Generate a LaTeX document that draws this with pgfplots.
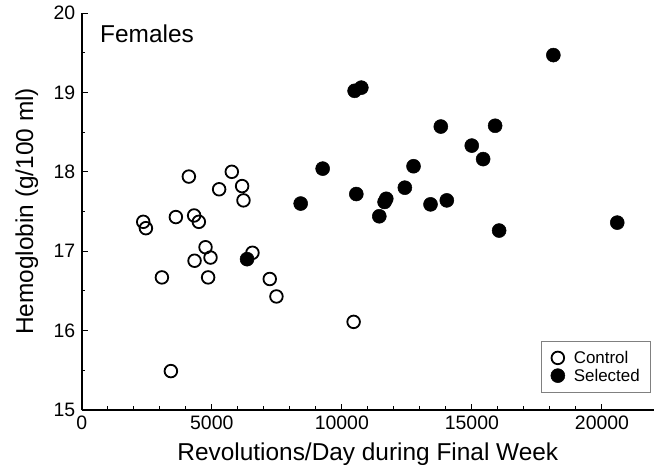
\documentclass[border=0pt]{standalone}
\usepackage{fontspec}
\setmainfont{Liberation Sans}
\usepackage{pgfplots}
\pgfplotsset{compat=1.18}
\begin{document}
\begin{tikzpicture}
\path[use as bounding box] (0,0) rectangle (655bp,465bp);
\begin{axis}[
  at={(81.7bp,55bp)}, anchor=south west,
  scale only axis, width=572.3bp, height=397bp,
  xmin=0, xmax=22000, ymin=15, ymax=20,
  axis lines=left, axis line style={-, line width=1.8bp},
  xtick={0,5000,10000,15000,20000},
  ytick={15,16,17,18,19,20},
  scaled x ticks=false,
  minor x tick num=4, minor y tick num=1,
  tick align=inside,
  major tick length=6bp, minor tick length=3.5bp,
  every tick/.style={black, line width=1bp},
  /pgf/number format/assume math mode=true,
  /pgf/number format/set thousands separator={},
  tick label style={font=\fontsize{19.5}{22}\selectfont},
  xticklabel style={yshift=-2bp},
  yticklabel style={xshift=-3bp},
  xlabel={Revolutions/Day during Final Week},
  ylabel={Hemoglobin (g/100 ml)},
  label style={font=\fontsize{24.5}{28}\selectfont},
  xlabel style={at={(axis description cs:0.5,0)}, anchor=base, yshift=-50bp},
  ylabel style={at={(axis description cs:-0.096,0.5)}, anchor=center, rotate=0},
  legend style={at={(0.995,0.043)}, anchor=south east, draw=gray, line width=0.8bp,
    font=\fontsize{17}{19}\selectfont, inner xsep=9bp, inner ysep=8bp,
    row sep=0bp,
    /tikz/every odd column/.append style={column sep=7bp}},
  legend image code/.code={\draw[#1] plot coordinates {(0.22cm,0cm)};},
  legend cell align=left,
  reverse legend,
  clip=false,
]
\addplot[only marks, mark=*, mark size=7bp, mark options={fill=black, draw=black, line width=0.5bp}] coordinates {
(6357,16.90) (8418,17.60) (9263,18.04) (10491,19.02) (10749,19.06)
(10556,17.72) (18131,19.47) (13804,18.57) (15893,18.58) (14994,18.33)
(15431,18.16) (12756,18.07) (12422,17.80) (11708,17.66) (11643,17.62)
(13409,17.59) (14034,17.64) (11440,17.44) (16046,17.26) (20587,17.36)
};
\addlegendentry{Selected}
\addplot[only marks, mark=o, mark size=6.3bp, mark options={draw=black, line width=1.8bp}] coordinates {
(2365,17.37) (2468,17.29) (3620,17.43) (4322,17.45) (4503,17.37)
(4760,17.05) (4952,16.92) (4338,16.88) (4860,16.67) (3083,16.67)
(6564,16.98) (7229,16.65) (7486,16.43) (10453,16.11) (3428,15.49)
(4119,17.94) (5770,18.00) (5283,17.78) (6166,17.82) (6219,17.64)
};
\addlegendentry{Control}
\node[anchor=west, inner sep=0pt, font=\fontsize{24.5}{28}\selectfont] at (rel axis cs:0.032,0.9486) {Females};
\end{axis}
\end{tikzpicture}
\end{document}
